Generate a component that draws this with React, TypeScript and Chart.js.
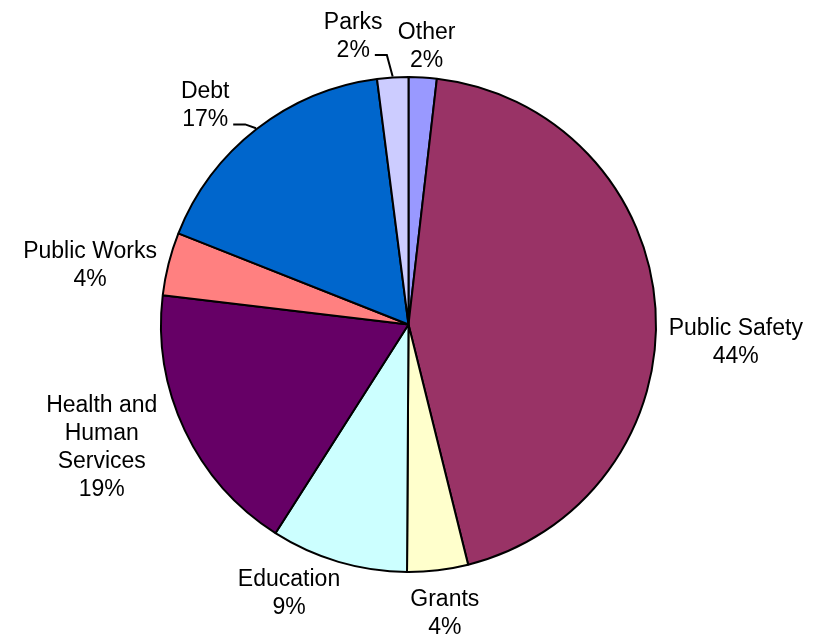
import React, { useEffect, useRef } from "react";
import { Chart, registerables } from "chart.js";

Chart.register(...registerables);

// Categories in drawing order (clockwise from 12 o'clock)
const categories: string[][] = [
  ["Other"],
  ["Public Safety"],
  ["Grants"],
  ["Education"],
  ["Health and", "Human", "Services"],
  ["Public Works"],
  ["Debt"],
  ["Parks"],
];
// Slice sizes (percent of circle)
const values: number[] = [1.83, 44.3, 3.97, 8.94, 17.86, 4.11, 16.97, 2.03];
// Percentages printed on the chart
const printedPercents: number[] = [2, 44, 4, 9, 19, 4, 17, 2];
const colors: string[] = [
  "#9999FF",
  "#993366",
  "#FFFFCC",
  "#CCFFFF",
  "#660066",
  "#FF8080",
  "#0066CC",
  "#CCCCFF",
];

// Label layout: polar angle (deg, clockwise from top) and distance beyond the pie edge
const labelAngles: number[] = [3.7, 92.8, 172.8, 204.1, 248.4, 280.8, 317.3, 349.2];
const labelExtra: number[] = [32.3, 79.2, 41.3, 44.1, 81.4, 75.7, 51.3, 46.5];
const hasLeader: boolean[] = [false, false, false, false, false, false, true, true];

const FONT_SIZE = 23;
const LINE_H = 28;
const FONT = `${FONT_SIZE}px "Liberation Sans", Arial, sans-serif`;

const labelPlugin = {
  id: "pieLabels",
  afterDatasetsDraw(chart: any) {
    const ctx: CanvasRenderingContext2D = chart.ctx;
    const meta = chart.getDatasetMeta(0);
    ctx.save();
    ctx.font = FONT;
    ctx.fillStyle = "#000";
    ctx.textAlign = "center";
    ctx.textBaseline = "alphabetic";
    const capH = FONT_SIZE * 0.716;
    meta.data.forEach((arc: any, i: number) => {
      const p = arc.getProps(["x", "y", "startAngle", "endAngle", "outerRadius"], true);
      const edgeR = p.outerRadius + 1;
      const a = (labelAngles[i] * Math.PI) / 180;
      const d = edgeR + labelExtra[i];
      const cx = p.x + d * Math.sin(a);
      const cy = p.y - d * Math.cos(a);
      const lines = [...categories[i], `${printedPercents[i]}%`];
      const blockH = capH + (lines.length - 1) * LINE_H;
      const firstBase = cy - blockH / 2 + capH;
      lines.forEach((t, k) => {
        ctx.fillText(t, cx, firstBase + k * LINE_H);
      });
      if (hasLeader[i]) {
        const last = lines[lines.length - 1];
        const w = ctx.measureText(last).width;
        const lastBase = firstBase + (lines.length - 1) * LINE_H;
        const sx = cx + w / 2 + 5;
        const sy = lastBase - 2;
        const mid = (p.startAngle + p.endAngle) / 2;
        const ex = p.x + edgeR * Math.cos(mid);
        const ey = p.y + edgeR * Math.sin(mid);
        ctx.beginPath();
        ctx.strokeStyle = "#000";
        ctx.lineWidth = 2;
        ctx.moveTo(sx, sy);
        ctx.lineTo(sx + 12, sy);
        ctx.lineTo(ex, ey);
        ctx.stroke();
      }
    });
    ctx.restore();
  },
};

export default function App() {
  const ref = useRef<HTMLCanvasElement | null>(null);
  useEffect(() => {
    if (!ref.current) return;
    const chart = new Chart(ref.current, {
      type: "pie",
      data: {
        labels: categories.map((c) => c.join(" ")),
        datasets: [
          {
            data: values,
            backgroundColor: colors,
            borderColor: "#000000",
            borderWidth: 2,
            radius: 247.5,
            hoverOffset: 0,
          } as any,
        ],
      },
      options: {
        animation: false,
        responsive: false,
        events: [],
        layout: { padding: { top: 12, bottom: 0, left: 0, right: 0 } },
        plugins: {
          legend: { display: false },
          tooltip: { enabled: false },
        },
      },
      plugins: [labelPlugin],
    });
    return () => chart.destroy();
  }, []);
  return (
    <div style={{ position: "fixed", left: 0, top: 0, width: 817, height: 637, background: "#fff" }}>
      <canvas ref={ref} width={817} height={637} />
    </div>
  );
}
